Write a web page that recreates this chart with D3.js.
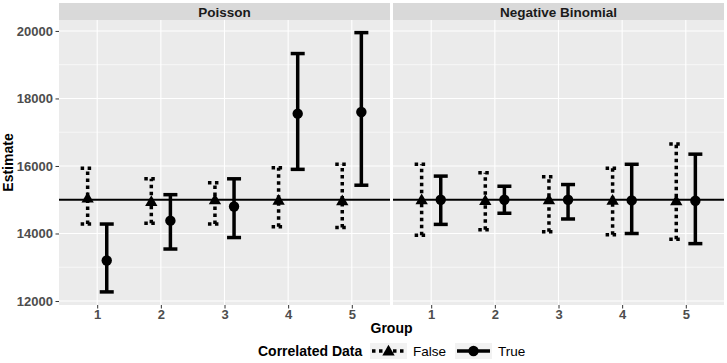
<!DOCTYPE html>
<html>
<head>
<meta charset="utf-8">
<script src="https://cdn.jsdelivr.net/npm/d3@7"></script>
<style>
  body { margin: 0; background: #fff; }
  text { font-family: "Liberation Sans", Arial, sans-serif; }
</style>
</head>
<body>
<svg width="727" height="363"></svg>
<script>
const svg = d3.select("svg");

// data
const panels = ["Poisson", "Negative Binomial"];
const groups = [1, 2, 3, 4, 5];
const yTicks = [12000, 14000, 16000, 18000, 20000];
const minorTicks = [13000, 15000, 17000, 19000];
const truth = 15000;

// Poisson
const poisFalseEst = [15050, 14950, 15000, 14990, 14970];
const poisFalseLo  = [14280, 14300, 14280, 14200, 14180];
const poisFalseHi  = [15930, 15620, 15500, 15950, 16050];
const poisTrueEst  = [13200, 14380, 14800, 17550, 17600];
const poisTrueLo   = [12270, 13540, 13880, 15900, 15430];
const poisTrueHi   = [14280, 15150, 15620, 19330, 19950];

// Negative binomial
const nbFalseEst = [15000, 14980, 15000, 14990, 14970];
const nbFalseLo  = [13950, 14110, 14050, 13960, 13830];
const nbFalseHi  = [16050, 15800, 15680, 15930, 16650];
const nbTrueEst  = [15000, 15000, 15000, 14980, 14970];
const nbTrueLo   = [14270, 14600, 14430, 14000, 13700];
const nbTrueHi   = [15700, 15400, 15450, 16050, 16350];

function rows(est, lo, hi, corr) {
  return groups.map((g, i) => ({ group: g, est: est[i], lo: lo[i], hi: hi[i], corr: corr }));
}
const panelData = {
  "Poisson": rows(poisFalseEst, poisFalseLo, poisFalseHi, false)
    .concat(rows(poisTrueEst, poisTrueLo, poisTrueHi, true)),
  "Negative Binomial": rows(nbFalseEst, nbFalseLo, nbFalseHi, false)
    .concat(rows(nbTrueEst, nbTrueLo, nbTrueHi, true))
};

// layout
const panelLeft = [59, 393];
const panelWidth = 331;
const stripTop = 3, panelTop = 20, panelBottom = 305;

const y = d3.scaleLinear().domain([11882, 20324]).range([panelBottom, panelTop]);

const tri = d3.symbol().type(d3.symbolTriangle).size(66);
const dodge = 0.15, capHalf = 0.11;

panels.forEach((name, pi) => {
  const x = d3.scaleLinear().domain([0.4, 5.6]).range([panelLeft[pi], panelLeft[pi] + panelWidth]);
  const g = svg.append("g");

  // strip
  g.append("rect")
    .attr("x", panelLeft[pi]).attr("y", stripTop)
    .attr("width", panelWidth).attr("height", panelTop - stripTop)
    .attr("fill", "#d9d9d9");
  g.append("text")
    .attr("x", panelLeft[pi] + panelWidth / 2).attr("y", 16.5)
    .attr("text-anchor", "middle")
    .attr("font-size", 13.5).attr("font-weight", "bold").attr("fill", "#1a1a1a")
    .text(name);

  // panel bg
  g.append("rect")
    .attr("x", panelLeft[pi]).attr("y", panelTop)
    .attr("width", panelWidth).attr("height", panelBottom - panelTop)
    .attr("fill", "#ebebeb");

  // grid
  g.selectAll(".minor").data(minorTicks).join("line")
    .attr("x1", panelLeft[pi]).attr("x2", panelLeft[pi] + panelWidth)
    .attr("y1", d => y(d)).attr("y2", d => y(d))
    .attr("stroke", "#fff").attr("stroke-width", 0.6);
  g.selectAll(".major").data(yTicks).join("line")
    .attr("x1", panelLeft[pi]).attr("x2", panelLeft[pi] + panelWidth)
    .attr("y1", d => y(d)).attr("y2", d => y(d))
    .attr("stroke", "#fff").attr("stroke-width", 1.1);
  g.selectAll(".vgrid").data(groups).join("line")
    .attr("x1", d => x(d)).attr("x2", d => x(d))
    .attr("y1", panelTop).attr("y2", panelBottom)
    .attr("stroke", "#fff").attr("stroke-width", 1.1);

  // reference line
  g.append("line")
    .attr("x1", panelLeft[pi]).attr("x2", panelLeft[pi] + panelWidth)
    .attr("y1", y(truth)).attr("y2", y(truth))
    .attr("stroke", "#000").attr("stroke-width", 1.8);

  // error bars
  const data = panelData[name];
  const bars = g.selectAll(".bar").data(data).join("g");
  const cx = d => x(d.group + (d.corr ? dodge : -dodge));
  const dash = d => d.corr ? null : "3.5,3.5";
  bars.append("line")
    .attr("x1", cx).attr("x2", cx)
    .attr("y1", d => y(d.lo)).attr("y2", d => y(d.hi))
    .attr("stroke", "#000").attr("stroke-width", 3.5)
    .attr("stroke-dasharray", dash);
  ["lo", "hi"].forEach(k => {
    bars.append("line")
      .attr("x1", d => x(d.group + (d.corr ? dodge : -dodge) - capHalf))
      .attr("x2", d => x(d.group + (d.corr ? dodge : -dodge) + capHalf))
      .attr("y1", d => y(d[k])).attr("y2", d => y(d[k]))
      .attr("stroke", "#000").attr("stroke-width", 3.5)
      .attr("stroke-dasharray", dash);
  });

  // points
  bars.filter(d => d.corr).append("circle")
    .attr("cx", cx).attr("cy", d => y(d.est)).attr("r", 5.2)
    .attr("fill", "#000");
  bars.filter(d => !d.corr).append("path")
    .attr("d", tri)
    .attr("transform", d => `translate(${cx(d)},${y(d.est) + 1})`)
    .attr("fill", "#000");

  // x axis
  const xa = g.append("g").attr("transform", `translate(0,${panelBottom})`)
    .call(d3.axisBottom(x).tickValues(groups).tickSize(3.5).tickPadding(1).tickFormat(d3.format("d")));
  xa.select(".domain").remove();
  xa.selectAll("line").attr("stroke", "#333");
  xa.selectAll("text").attr("font-size", 13).attr("font-weight", "bold").attr("fill", "#4d4d4d")
    .attr("font-family", "Liberation Sans, Arial, sans-serif");
});

// y axis
const ya = svg.append("g").attr("transform", `translate(${panelLeft[0]},0)`)
  .call(d3.axisLeft(y).tickValues(yTicks).tickSize(3.5).tickPadding(2.5).tickFormat(d3.format("d")));
ya.select(".domain").remove();
ya.selectAll("line").attr("stroke", "#333");
ya.selectAll("text").attr("font-size", 13).attr("font-weight", "bold").attr("fill", "#4d4d4d")
  .attr("font-family", "Liberation Sans, Arial, sans-serif");

// axis titles
svg.append("text")
  .attr("transform", `translate(13,${(panelTop + panelBottom) / 2}) rotate(-90)`)
  .attr("text-anchor", "middle")
  .attr("font-size", 14).attr("font-weight", "bold")
  .text("Estimate");
svg.append("text")
  .attr("x", (panelLeft[0] + panelLeft[1] + panelWidth) / 2).attr("y", 333)
  .attr("text-anchor", "middle")
  .attr("font-size", 14).attr("font-weight", "bold")
  .text("Group");

// legend
const legend = svg.append("g");
legend.append("text")
  .attr("x", 258).attr("y", 356)
  .attr("font-size", 14).attr("font-weight", "bold")
  .text("Correlated Data");

const legendKeys = [
  { label: "False", corr: false, x: 370 },
  { label: "True", corr: true, x: 455 }
];
legendKeys.forEach(k => {
  const kg = legend.append("g");
  kg.append("rect").attr("x", k.x).attr("y", 343).attr("width", 37).attr("height", 16)
    .attr("fill", "#f2f2f2");
  kg.append("line")
    .attr("x1", k.x + 2).attr("x2", k.x + 35).attr("y1", 351).attr("y2", 351)
    .attr("stroke", "#000").attr("stroke-width", 3.5)
    .attr("stroke-dasharray", k.corr ? null : "3.5,3.5");
  if (k.corr) {
    kg.append("circle").attr("cx", k.x + 18.5).attr("cy", 351).attr("r", 5.2).attr("fill", "#000");
  } else {
    kg.append("path").attr("d", tri).attr("transform", `translate(${k.x + 18.5},352)`).attr("fill", "#000");
  }
  kg.append("text")
    .attr("x", k.x + 43).attr("y", 356)
    .attr("font-size", 13.5)
    .text(k.label);
});
</script>
</body>
</html>
